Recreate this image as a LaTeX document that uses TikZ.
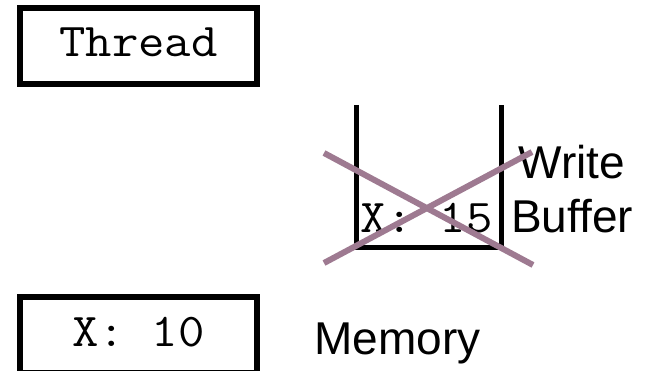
\documentclass[tikz,border=0pt]{standalone}
\usepackage{fontspec}
\newfontfamily\codefont[FakeStretch=1.09]{Latin Modern Mono}
\newfontfamily\labelfont{Liberation Sans}
\usepackage{xcolor}
\definecolor{crossmauve}{RGB}{158,122,145}

\begin{document}
\begin{tikzpicture}[x=1pt,y=-1pt,
    box/.style={draw,line width=6.5pt,minimum width=237pt,minimum height=76pt,
                inner sep=0pt,text height=30pt,text depth=8pt},
    code/.style={font=\codefont\fontsize{47}{54}\selectfont},
    label/.style={font=\labelfont\fontsize{46}{54}\selectfont,inner sep=0pt}]
            \useasboundingbox (0,0) rectangle (652,371);
            \clip (0,0) rectangle (652,371);
            \node[box,code] (thread) at (138.5,46) {Thread}; % hilo
            \node[box,code] (memory) at (138.5,335) {X: 10}; % memoria
            \draw[line width=5.5pt] (356.5,105) -- (356.5,247.5) -- (501.5,247.5) -- (501.5,105); % buffer
            \node[code,anchor=base,inner sep=0pt] (entry) at (426.5,232) {X: 15};
            \node[label,align=center,anchor=base] (buffer) at (572,232) {Write\\Buffer};
            \node[label,anchor=base] (memlabel) at (397.5,354) {Memory};
            \draw[crossmauve,line width=6pt] (324,153) -- (533,265); % tachado
            \draw[crossmauve,line width=6pt] (324,263) -- (532,152);
            \end{tikzpicture}
\end{document}
